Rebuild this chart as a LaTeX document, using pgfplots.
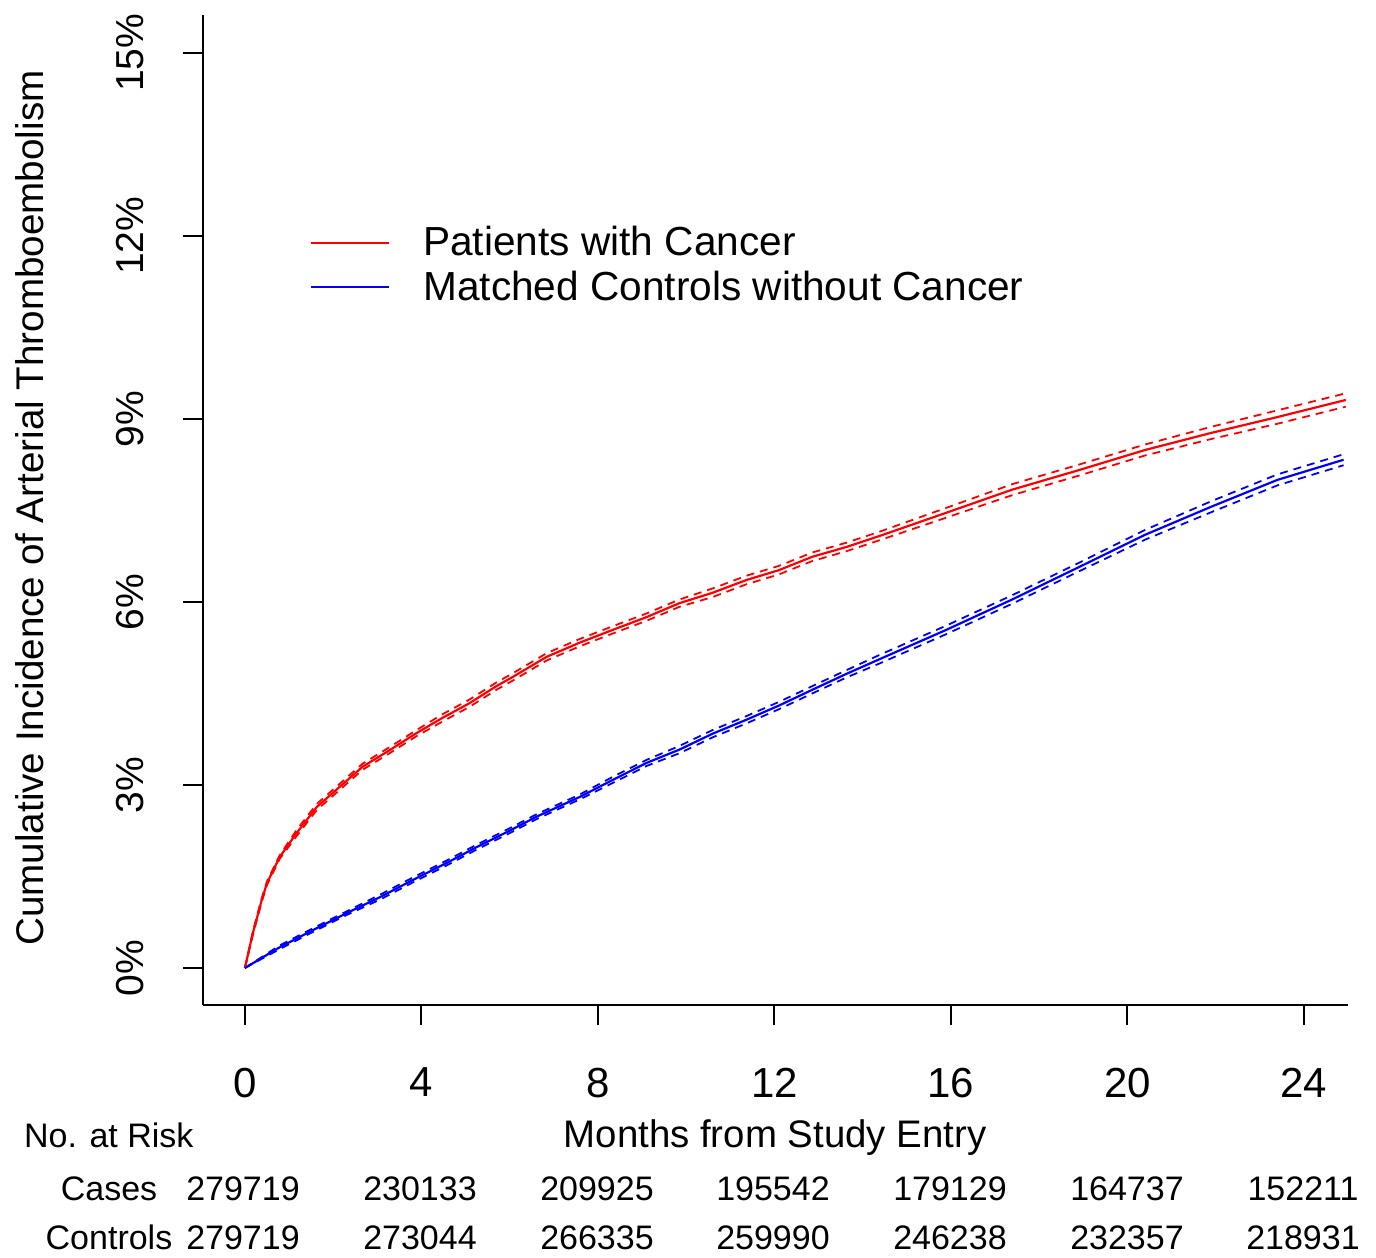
\documentclass[border=0pt]{standalone}
\usepackage{fontspec}
\setmainfont{Liberation Sans}
\usepackage{pgfplots}
\pgfplotsset{compat=1.18}
\usepackage{pgfplotstable}

\pgfplotstableread{
t y lo hi
0 0 0 0
0.18 0.57 0.54 0.60
0.38 1.11 1.08 1.14
0.5 1.39 1.36 1.42
0.79 1.82 1.79 1.85
1.17 2.21 2.16 2.26
1.63 2.64 2.59 2.69
2.15 2.97 2.92 3.02
2.67 3.30 3.25 3.35
3.28 3.57 3.52 3.62
3.89 3.85 3.80 3.90
4.48 4.10 4.04 4.16
5.09 4.34 4.28 4.40
5.7 4.62 4.56 4.68
6.07 4.77 4.71 4.83
6.84 5.10 5.04 5.16
7.58 5.33 5.27 5.39
8.33 5.54 5.48 5.60
9.10 5.75 5.69 5.81
9.85 5.98 5.92 6.04
10.6 6.15 6.08 6.22
11.37 6.36 6.29 6.43
12.1 6.52 6.45 6.59
12.86 6.74 6.67 6.81
13.63 6.90 6.83 6.97
14.38 7.08 7.01 7.15
15.89 7.46 7.38 7.54
17.39 7.84 7.75 7.93
18.9 8.16 8.07 8.25
20.4 8.49 8.40 8.58
21.9 8.77 8.67 8.87
23.4 9.03 8.92 9.14
24.95 9.31 9.20 9.42
}\cancer

\pgfplotstableread{
t y lo hi
0 0 0 0
0.79 0.34 0.31 0.37
1.54 0.62 0.59 0.65
2.31 0.90 0.87 0.93
3.06 1.16 1.12 1.20
3.80 1.44 1.40 1.48
4.57 1.72 1.68 1.76
5.25 1.98 1.94 2.02
6.0 2.25 2.21 2.29
6.61 2.48 2.44 2.52
7.58 2.80 2.76 2.84
8.33 3.08 3.03 3.13
9.10 3.36 3.31 3.41
9.85 3.58 3.52 3.64
10.6 3.84 3.78 3.90
11.37 4.07 4.01 4.13
12.1 4.30 4.24 4.36
12.86 4.56 4.50 4.62
13.63 4.82 4.76 4.88
14.38 5.06 4.99 5.13
15.89 5.54 5.47 5.61
17.39 6.04 5.97 6.11
18.9 6.57 6.50 6.64
20.4 7.10 7.02 7.18
21.9 7.56 7.47 7.65
23.4 8.00 7.91 8.09
24.9 8.33 8.24 8.42
}\control

\begin{document}
\begin{tikzpicture}
\useasboundingbox (-101.5pt,-126.5pt) rectangle (586.5pt,502.5pt);
\begin{axis}[
  at={(0pt,0pt)}, anchor=south west,
  scale only axis, width=572.5pt, height=495pt,
  xmin=-0.95, xmax=25, ymin=-0.607, ymax=15.62,
  axis lines*=left,
  axis line style={line width=1pt},
  xtick={0,4,...,24}, ytick={0,3,...,15},
  yticklabel={\pgfmathprintnumber{\tick}\%},
  /pgf/number format/assume math mode=true,
  tick align=outside, major tick length=10pt,
  tick style={line width=1pt, black},
  xticklabel style={font=\fontsize{21}{25}\selectfont, yshift=-18pt},
  yticklabel style={font=\fontsize{19.5}{23}\selectfont, xshift=-16pt, rotate=90, anchor=south},
  legend style={draw=none, fill=none, at={(0.0934,0.791)}, anchor=north west,
    font=\fontsize{20.3}{24}\selectfont, row sep=2pt, inner sep=0pt},
  legend cell align=left,
  legend image code/.code={\draw[#1, line width=1pt] (0pt,0pt) -- (39pt,0pt); \path[draw=none, fill=none] (0pt,0pt) rectangle (54pt,0.1pt);},
  clip=false,
]
\addplot[red, line width=1.1pt] table[x=t,y=y]{\cancer};
\addlegendentry{Patients with Cancer}
\addplot[blue, line width=1.1pt] table[x=t,y=y]{\control};
\addlegendentry{Matched Controls without Cancer}
\addplot[red, line width=0.9pt, dash pattern=on 4pt off 3pt, forget plot] table[x=t,y=lo]{\cancer};
\addplot[red, line width=0.9pt, dash pattern=on 4pt off 3pt, forget plot] table[x=t,y=hi]{\cancer};
\addplot[blue, line width=0.9pt, dash pattern=on 4pt off 3pt, forget plot] table[x=t,y=lo]{\control};
\addplot[blue, line width=0.9pt, dash pattern=on 4pt off 3pt, forget plot] table[x=t,y=hi]{\control};
\end{axis}
\node[rotate=90, font=\fontsize{19.3}{23}\selectfont] at (-86.5pt,248.5pt) {Cumulative Incidence of Arterial Thromboembolism};
\node[anchor=base, font=\fontsize{19.2}{23}\selectfont] at (286pt,-71pt) {Months from Study Entry};
\begin{scope}[every node/.style={anchor=base, font=\fontsize{17}{20}\selectfont}]
\node[anchor=base west] at (-93pt,-71pt) {No. at Risk};
\node at (-47pt,-97.5pt) {Cases};
\node at (-47pt,-122pt) {Controls};
\node at (20pt,-97.5pt) {279719};
\node at (108.5pt,-97.5pt) {230133};
\node at (197pt,-97.5pt) {209925};
\node at (285pt,-97.5pt) {195542};
\node at (373.5pt,-97.5pt) {179129};
\node at (462pt,-97.5pt) {164737};
\node at (550pt,-97.5pt) {152211};
\node at (20pt,-122pt) {279719};
\node at (108.5pt,-122pt) {273044};
\node at (197pt,-122pt) {266335};
\node at (285pt,-122pt) {259990};
\node at (373.5pt,-122pt) {246238};
\node at (462pt,-122pt) {232357};
\node at (550pt,-122pt) {218931};
\end{scope}
\end{tikzpicture}
\end{document}
